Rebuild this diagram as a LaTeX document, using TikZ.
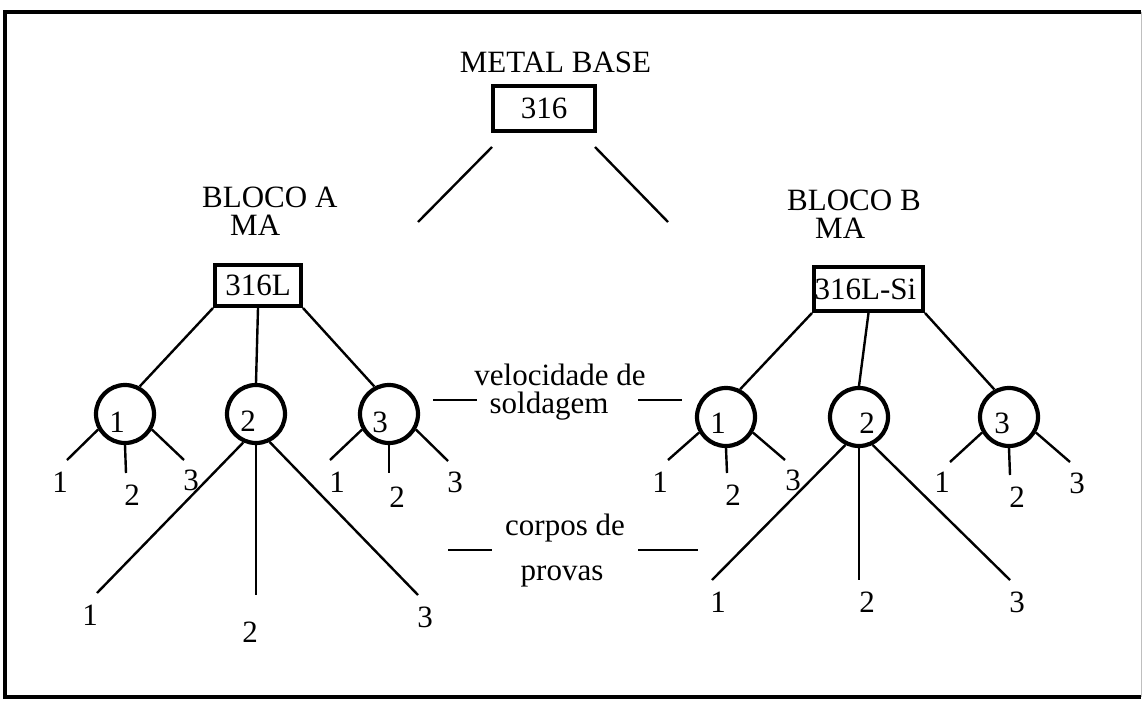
\documentclass[tikz,border=0pt]{standalone}
\usepackage{fontspec}
\setmainfont{Liberation Serif}
\begin{document}
\begin{tikzpicture}[x=1pt,y=-1pt,
  every node/.style={font=\fontsize{31}{34}\selectfont, inner sep=0pt},
  conn/.style={line width=2.4pt},
  boxnode/.style={draw, line width=4pt, rectangle},
  circ/.style={circle, draw, line width=4.2pt, minimum size=58pt},
  num/.style={anchor=center},
  lbl/.style={anchor=base},
  lblw/.style={anchor=base west}]
\useasboundingbox (0,0) rectangle (1142,701);
% frame
\draw[line width=3.5pt] (1141,12) -- (5,12) -- (5,697) -- (1141,697);
\draw[line width=1pt, black!25] (1141,12) -- (1141,697);

% top
\node[lbl] (mbt) at (555.5,72) {METAL BASE};
\node[boxnode, minimum width=102pt, minimum height=45pt] (mb) at (544,108.5) {316};
\coordinate (mbl) at (492,147);
\coordinate (mbla) at (418,222);
\coordinate (mbr) at (595,147);
\coordinate (mbrb) at (668,222);
\draw[conn] (mbl) -- (mbla);
\draw[conn] (mbr) -- (mbrb);

% block A
\node[lblw] (bat) at (202,207) {BLOCO A};
\node[lblw] (bam) at (230,235) {MA};
\node[boxnode, minimum width=86pt, minimum height=41pt] (bA) at (258,285.5) {316L};
\node[circ] (A1) at (125,414) {};
\node[circ] (A2) at (256,414) {};
\node[circ] (A3) at (389,414) {};
\node[num] (A1t) at (117,422) {1};
\node[num] (A2t) at (248,421) {2};
\node[num] (A3t) at (380,422) {3};
\draw[conn] (bA.south west) -- (A1.62);
\draw[conn] (bA.south) -- (A2.north);
\draw[conn] (bA.south east) -- (A3.118);

% A1 legs
\coordinate (A1a) at (67,460); \coordinate (A1b) at (126,473); \coordinate (A1c) at (184,460);
\draw[conn] (A1.210) -- (A1a); \draw[conn] (A1.270) -- (A1b); \draw[conn] (A1.330) -- (A1c);
\node[num] (A1an) at (60,482) {1}; \node[num] (A1bn) at (132,495) {2}; \node[num] (A1cn) at (191,480) {3};
% A2 legs
\coordinate (A2a) at (97,593); \coordinate (A2b) at (256,595); \coordinate (A2c) at (418,595);
\draw[conn] (A2.246) -- (A2a); \draw[conn] (A2.270) -- (A2b); \draw[conn] (A2.296) -- (A2c);
\node[num] (A2an) at (90,615) {1}; \node[num] (A2bn) at (250,632) {2}; \node[num] (A2cn) at (425,617) {3};
% A3 legs
\coordinate (A3a) at (330,460); \coordinate (A3b) at (389,473); \coordinate (A3c) at (448,461);
\draw[conn] (A3.210) -- (A3a); \draw[conn] (A3.270) -- (A3b); \draw[conn] (A3.330) -- (A3c);
\node[num] (A3an) at (337,482) {1}; \node[num] (A3bn) at (397,497) {2}; \node[num] (A3cn) at (455,482) {3};

% block B
\node[lblw] (bbt) at (787,210) {BLOCO B};
\node[lblw] (bbm) at (815,238) {MA};
\node[boxnode, minimum width=109pt, minimum height=44pt] (bB) at (868.5,289) {};
\node[num] (bBt) at (865.5,289) {316L-Si};
\node[circ] (B1) at (726,417) {};
\node[circ] (B2) at (859,417) {};
\node[circ] (B3) at (1009,417) {};
\node[num] (B1t) at (718,423) {1};
\node[num] (B2t) at (867,423) {2};
\node[num] (B3t) at (1002,423) {3};
\draw[conn] (bB.south west) -- (B1.63);
\draw[conn] (bB.south) -- (B2.north);
\draw[conn] (bB.south east) -- (B3.118);

% B1 legs
\coordinate (B1a) at (668,460); \coordinate (B1b) at (727,473); \coordinate (B1c) at (785,460);
\draw[conn] (B1.210) -- (B1a); \draw[conn] (B1.270) -- (B1b); \draw[conn] (B1.330) -- (B1c);
\node[num] (B1an) at (660,482) {1}; \node[num] (B1bn) at (733,495) {2}; \node[num] (B1cn) at (793,480) {3};
% B2 legs
\coordinate (B2a) at (712,580); \coordinate (B2b) at (859,580); \coordinate (B2c) at (1010,580);
\draw[conn] (B2.244) -- (B2a); \draw[conn] (B2.270) -- (B2b); \draw[conn] (B2.296) -- (B2c);
\node[num] (B2an) at (718,602) {1}; \node[num] (B2bn) at (867,602) {2}; \node[num] (B2cn) at (1017,602) {3};
% B3 legs
\coordinate (B3a) at (950,462); \coordinate (B3b) at (1010,475); \coordinate (B3c) at (1070,462);
\draw[conn] (B3.210) -- (B3a); \draw[conn] (B3.270) -- (B3b); \draw[conn] (B3.330) -- (B3c);
\node[num] (B3an) at (942,482) {1}; \node[num] (B3bn) at (1017,497) {2}; \node[num] (B3cn) at (1077,483) {3};

% middle labels
\node[lbl] (vel) at (560,385) {velocidade de};
\node[lbl] (sol) at (549,413) {soldagem};
\node[lbl] (cor) at (565,535) {corpos de};
\node[lbl] (pro) at (562,580) {provas};
\coordinate (v1) at (433,400); \coordinate (v2) at (477,400);
\coordinate (v3) at (638,400); \coordinate (v4) at (682,400);
\coordinate (c1) at (448,550); \coordinate (c2) at (492,550);
\coordinate (c3) at (638,550); \coordinate (c4) at (698,550);
\draw[conn] (v1) -- (v2); \draw[conn] (v3) -- (v4);
\draw[conn] (c1) -- (c2); \draw[conn] (c3) -- (c4);
\end{tikzpicture}
\end{document}
